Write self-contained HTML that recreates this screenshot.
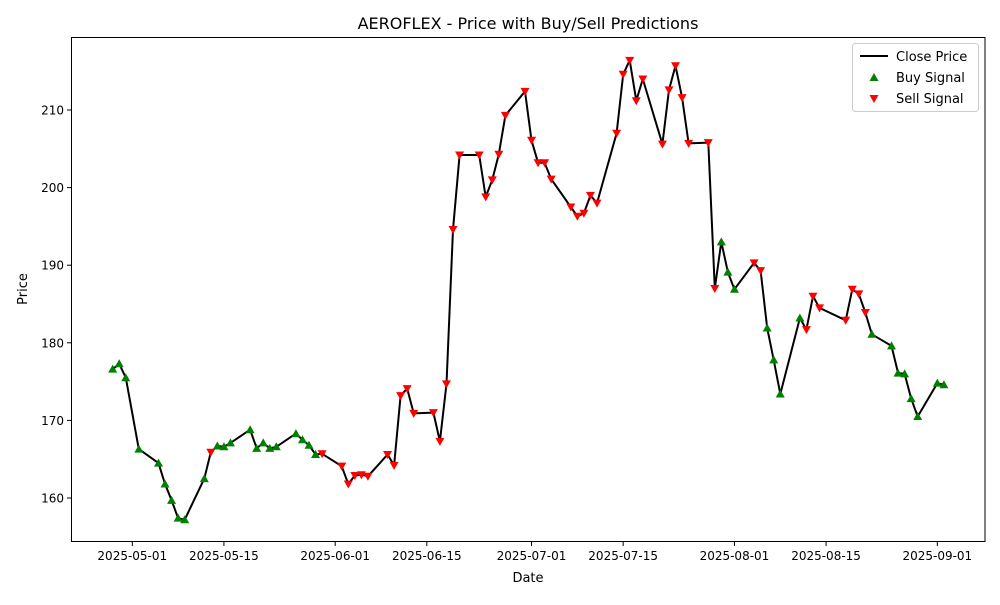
<!DOCTYPE html>
<html><head><meta charset="utf-8">
<style>
body{margin:0;background:#fff;}
svg{font-family:"DejaVu Sans","Liberation Sans",sans-serif;}
</style></head>
<body>
<svg id="chart" width="1000" height="600" viewBox="0 0 1000 600">
<rect width="1000" height="600" fill="#fff"/>
<text x="528" y="29" text-anchor="middle" font-size="16">AEROFLEX - Price with Buy/Sell Predictions</text>
<g id="grid"></g>
<g id="series"></g>
<rect x="71.5" y="37.5" width="913.5" height="504" fill="none" stroke="#000" stroke-width="1"/>
<g id="xticks"></g><g id="yticks"></g>
<text x="528" y="582" text-anchor="middle" font-size="13">Date</text>
<text transform="translate(27,289) rotate(-90)" text-anchor="middle" font-size="13">Price</text>
<g>
<rect x="852.5" y="43.5" width="126" height="68" rx="3" fill="#fff" fill-opacity="0.8" stroke="#ccc"/>
<g><line x1="860" y1="56" x2="888" y2="56" stroke="#000" stroke-width="2"/><text x="896" y="61" font-size="13">Close Price</text></g>
<g><polygon points="874,73 869.5,81 878.5,81" fill="green"/><text x="896" y="82" font-size="13">Buy Signal</text></g>
<g><polygon points="874,103 869.5,95 878.5,95" fill="red"/><text x="896" y="103" font-size="13">Sell Signal</text></g>
</g>
</svg>
<script>
const dates=["2025-04-28","2025-04-29","2025-04-30","2025-05-02","2025-05-05","2025-05-06","2025-05-07","2025-05-08","2025-05-09","2025-05-12","2025-05-13","2025-05-14","2025-05-15","2025-05-16","2025-05-19","2025-05-20","2025-05-21","2025-05-22","2025-05-23","2025-05-26","2025-05-27","2025-05-28","2025-05-29","2025-05-30","2025-06-02","2025-06-03","2025-06-04","2025-06-05","2025-06-06","2025-06-09","2025-06-10","2025-06-11","2025-06-12","2025-06-13","2025-06-16","2025-06-17","2025-06-18","2025-06-19","2025-06-20","2025-06-23","2025-06-24","2025-06-25","2025-06-26","2025-06-27","2025-06-30","2025-07-01","2025-07-02","2025-07-03","2025-07-04","2025-07-07","2025-07-08","2025-07-09","2025-07-10","2025-07-11","2025-07-14","2025-07-15","2025-07-16","2025-07-17","2025-07-18","2025-07-21","2025-07-22","2025-07-23","2025-07-24","2025-07-25","2025-07-28","2025-07-29","2025-07-30","2025-07-31","2025-08-01","2025-08-04","2025-08-05","2025-08-06","2025-08-07","2025-08-08","2025-08-11","2025-08-12","2025-08-13","2025-08-14","2025-08-18","2025-08-19","2025-08-20","2025-08-21","2025-08-22","2025-08-25","2025-08-26","2025-08-27","2025-08-28","2025-08-29","2025-09-01","2025-09-02"];
const prices=[176.6,177.3,175.5,166.3,164.5,161.8,159.7,157.4,157.2,162.5,165.9,166.7,166.6,167.1,168.8,166.4,167.1,166.4,166.6,168.3,167.5,166.8,165.6,165.7,164.1,161.8,162.9,163.0,162.8,165.6,164.2,173.2,174.1,170.9,171.0,167.3,174.7,194.6,204.2,204.2,198.8,201.0,204.3,209.3,212.4,206.1,203.2,203.2,201.1,197.5,196.3,196.7,199.0,198.0,207.0,214.6,216.4,211.2,214.0,205.6,212.6,215.7,211.6,205.7,205.8,187.0,193.0,189.1,186.9,190.3,189.3,181.9,177.8,173.4,183.2,181.7,186.0,184.5,182.9,186.9,186.3,183.9,181.1,179.6,176.1,176.0,172.8,170.5,174.8,174.6];
const signals="BBBBBBBBBBSBBBBBBBBBBBBSSSSSSSSSSSSSSSSSSSSSSSSSSSSSSSSSSSSSSSSSSSBBBSSBBBBSSSSSSSBBBBBBBB".split("");
const xTickLabels=["2025-05-01","2025-05-15","2025-06-01","2025-06-15","2025-07-01","2025-07-15","2025-08-01","2025-08-15","2025-09-01"];
const yTickValues=[160,170,180,190,200,210];

const NS="http://www.w3.org/2000/svg";
const base=Date.UTC(2025,4,1);
function dayOf(s){const p=s.split("-");return (Date.UTC(+p[0],+p[1]-1,+p[2])-base)/86400000;}
function xs(s){return 132.3+dayOf(s)*6.545;}
function ys(v){return 498-(v-160)*7.76;}
function mk(tag,attrs,parent){const e=document.createElementNS(NS,tag);for(const k in attrs)e.setAttribute(k,attrs[k]);parent.appendChild(e);return e;}
const xt=document.getElementById("xticks"),yt=document.getElementById("yticks"),ser=document.getElementById("series");
xTickLabels.forEach(l=>{const x=xs(l);
 const g=mk("g",{},xt);
 
 
 mk("line",{x1:x,x2:x,y1:541.5,y2:546,stroke:"#000"},g);
 const t=mk("text",{x:x,y:560,"text-anchor":"middle","font-size":"12"},g);t.textContent=l;});
yTickValues.forEach(v=>{const y=ys(v);
 const g=mk("g",{},yt);
 
 
 mk("line",{x1:67,x2:71.5,y1:y,y2:y,stroke:"#000"},g);
 const t=mk("text",{x:64,y:y+4.5,"text-anchor":"end","font-size":"12"},g);t.textContent=v;});
const pts=dates.map((d,i)=>xs(d).toFixed(1)+","+ys(prices[i]).toFixed(1)).join(" ");
const line=mk("polyline",{points:pts,fill:"none",stroke:"#000","stroke-width":"2","stroke-linejoin":"round"},ser);


dates.forEach((d,i)=>{const x=xs(d),y=ys(prices[i]);let p;
 if(signals[i]==="B"){p=mk("polygon",{points:`${x},${y-4.5} ${x-4.5},${y+3.5} ${x+4.5},${y+3.5}`,fill:"green"},ser);
  }
 else{p=mk("polygon",{points:`${x},${y+4.5} ${x-4.5},${y-3.5} ${x+4.5},${y-3.5}`,fill:"red"},ser);
  }
 });
</script>
</body></html>
